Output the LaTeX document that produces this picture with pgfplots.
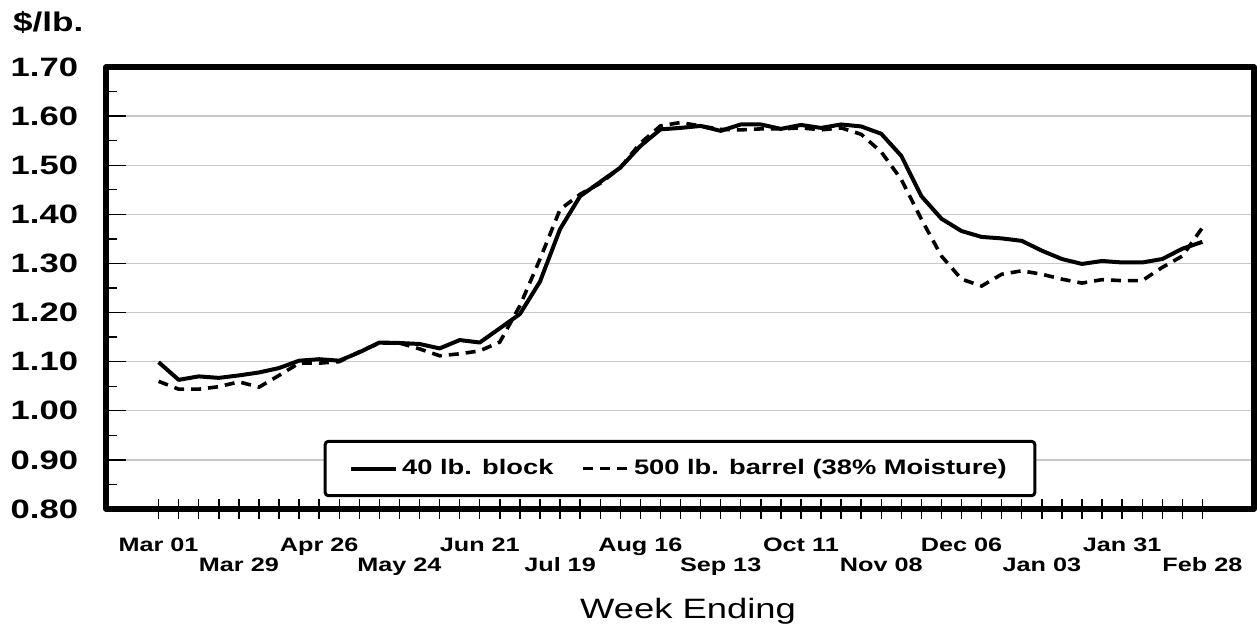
\documentclass[border=0pt]{standalone}
\usepackage{fontspec}
\setmainfont{Liberation Sans}[FakeStretch=1.3]
\usepackage{pgfplots}
\usepackage{pgfplotstable}
\pgfplotsset{compat=1.18}
\pgfplotstableread{
x block barrel
0 1.099 1.060
1 1.063 1.044
2 1.070 1.044
3 1.067 1.049
4 1.072 1.059
5 1.078 1.048
6 1.087 1.072
7 1.102 1.097
8 1.105 1.097
9 1.102 1.100
10 1.119 1.120
11 1.139 1.138
12 1.138 1.138
13 1.136 1.126
14 1.127 1.112
15 1.144 1.116
16 1.139 1.122
17 1.168 1.140
18 1.197 1.214
19 1.263 1.309
20 1.370 1.410
21 1.437 1.441
22 1.466 1.463
23 1.495 1.495
24 1.539 1.545
25 1.573 1.580
26 1.576 1.587
27 1.580 1.580
28 1.570 1.573
29 1.583 1.572
30 1.583 1.574
31 1.574 1.574
32 1.582 1.576
33 1.576 1.572
34 1.583 1.576
35 1.579 1.563
36 1.564 1.527
37 1.519 1.471
38 1.437 1.390
39 1.391 1.315
40 1.366 1.268
41 1.354 1.254
42 1.351 1.278
43 1.346 1.285
44 1.326 1.278
45 1.309 1.268
46 1.299 1.260
47 1.305 1.267
48 1.302 1.265
49 1.302 1.265
50 1.309 1.292
51 1.330 1.315
52 1.344 1.373
}\datatable
\begin{document}
\begin{tikzpicture}
\begin{axis}[
  at={(0,0)}, anchor=south west,
  scale only axis, width=574pt, height=221pt,
  xmin=-2.62, xmax=54.57, ymin=0.8, ymax=1.7,
  axis line style={line width=2.8pt, line join=round},
  tick pos=left,
  tick align=inside,
  major tick length=10pt, minor tick length=5.5pt,
  tick style={black, line width=0.7pt},
  xtick style={yshift=-5pt},
  ytick={0.8,0.9,...,1.71},
  minor y tick num=1,
  ymajorgrids,
  major grid style={color=black!22, line width=0.7pt},
  /pgf/number format/assume math mode=true,
  yticklabel style={/pgf/number format/.cd, fixed, fixed zerofill, precision=2, /tikz/.cd,
    anchor=east, inner sep=0pt, xshift=-13.8pt, font=\bfseries\fontsize{13.3}{15}\selectfont},
  xtick={0,...,52},
  xticklabels={Mar 01,,,,,,,,Apr 26,,,,,,,,Jun 21,,,,,,,,Aug 16,,,,,,,,Oct 11,,,,,,,,Dec 06,,,,,,,,Jan 31,,,,},
  extra x ticks={4,12,20,28,36,44,52},
  extra x tick labels={Mar 29,May 24,Jul 19,Sep 13,Nov 08,Jan 03,Feb 28},
  extra x tick style={xticklabel style={yshift=-10pt}},
  xticklabel style={anchor=base, inner sep=0pt, yshift=-21.3pt, font=\bfseries\fontsize{9.7}{11}\selectfont},
  xlabel={Week Ending},
  xlabel style={at={(axis description cs:0.507,0)}, anchor=base, yshift=-54.65pt, inner sep=0pt, font=\fontsize{14}{16}\selectfont},
  legend style={at={(0.5,0.0916)}, anchor=center, draw=black, line width=1.5pt, rounded corners=1.5pt,
    fill=white, font=\bfseries\fontsize{10.5}{12}\selectfont, inner xsep=12pt, inner ysep=7pt,
    /tikz/every even column/.append style={column sep=12pt}},
  legend columns=2,
  legend image code/.code={\draw[#1] (0pt,0pt) -- (22.5pt,0pt);},
]
\addplot[black, line width=2pt, line join=round] table[x=x, y=block] {\datatable};
\addlegendentry{40 lb. block}
\addplot[black, line width=1.8pt, dash pattern=on 5pt off 3.5pt] table[x=x, y=barrel] {\datatable};
\addlegendentry{500 lb. barrel (38\% Moisture)}
\end{axis}
\node[anchor=base west, inner sep=0pt, font=\bfseries\fontsize{13.5}{16}\selectfont] at (-46.65pt,238.65pt) {\$/lb.};
\pgfresetboundingbox
\path[use as bounding box] (-53pt,-57.5pt) rectangle (575.5pt,254.5pt);
\end{tikzpicture}
\end{document}
